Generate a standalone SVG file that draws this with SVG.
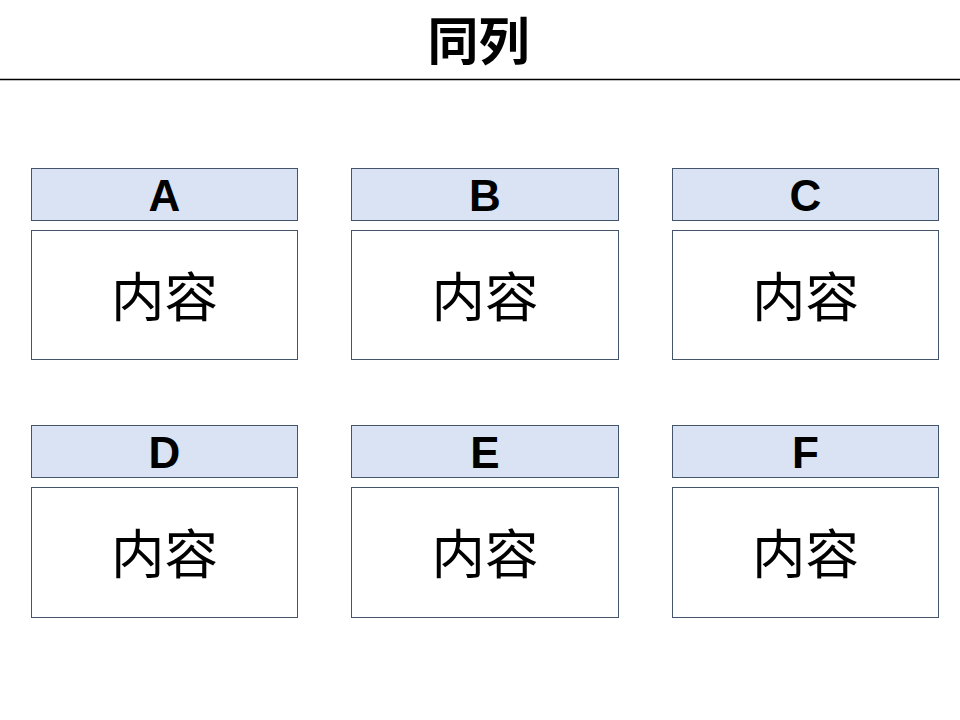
<svg xmlns="http://www.w3.org/2000/svg" width="960" height="720" viewBox="0 0 960 720">
<style>
.hd{fill:#DAE3F3;stroke:#44546A;stroke-width:1}
.bd{fill:#FFFFFF;stroke:#44546A;stroke-width:1}
.ht{font-family:"Liberation Sans","DejaVu Sans",sans-serif;font-weight:bold;font-size:44px;fill:#000;text-anchor:middle}
.ct{font-family:"Noto Sans CJK SC","Noto Sans CJK JP",sans-serif;font-size:53.5px;fill:#000;text-anchor:middle}
.tt{font-family:"Noto Sans CJK SC","Noto Sans CJK JP",sans-serif;font-weight:bold;font-size:51px;fill:#000;text-anchor:middle}
</style>
<rect width="960" height="720" fill="#FFFFFF"/>
<g id="title">
<text class="tt" x="478.5" y="60">同列</text>
<line x1="0" y1="79.5" x2="960" y2="79.5" stroke="#000" stroke-width="1.3"/>
</g>
<g id="nodeA">
<rect class="hd" x="31.5" y="168.5" width="266" height="52"/>
<text class="ht" x="164.5" y="210.5">A</text>
<rect class="bd" x="31.5" y="230.5" width="266" height="129"/>
<text class="ct" x="164.5" y="316.5">内容</text>
</g>
<g id="nodeB">
<rect class="hd" x="351.5" y="168.5" width="267" height="52"/>
<text class="ht" x="485" y="210.5">B</text>
<rect class="bd" x="351.5" y="230.5" width="267" height="129"/>
<text class="ct" x="485" y="316.5">内容</text>
</g>
<g id="nodeC">
<rect class="hd" x="672.5" y="168.5" width="266" height="52"/>
<text class="ht" x="805.5" y="210.5">C</text>
<rect class="bd" x="672.5" y="230.5" width="266" height="129"/>
<text class="ct" x="805.5" y="316.5">内容</text>
</g>
<g id="nodeD">
<rect class="hd" x="31.5" y="425.5" width="266" height="52"/>
<text class="ht" x="164.5" y="468">D</text>
<rect class="bd" x="31.5" y="487.5" width="266" height="130"/>
<text class="ct" x="164.5" y="573.5">内容</text>
</g>
<g id="nodeE">
<rect class="hd" x="351.5" y="425.5" width="267" height="52"/>
<text class="ht" x="485" y="468">E</text>
<rect class="bd" x="351.5" y="487.5" width="267" height="130"/>
<text class="ct" x="485" y="573.5">内容</text>
</g>
<g id="nodeF">
<rect class="hd" x="672.5" y="425.5" width="266" height="52"/>
<text class="ht" x="805.5" y="468">F</text>
<rect class="bd" x="672.5" y="487.5" width="266" height="130"/>
<text class="ct" x="805.5" y="573.5">内容</text>
</g>
<g id="connectors"></g>
</svg>
